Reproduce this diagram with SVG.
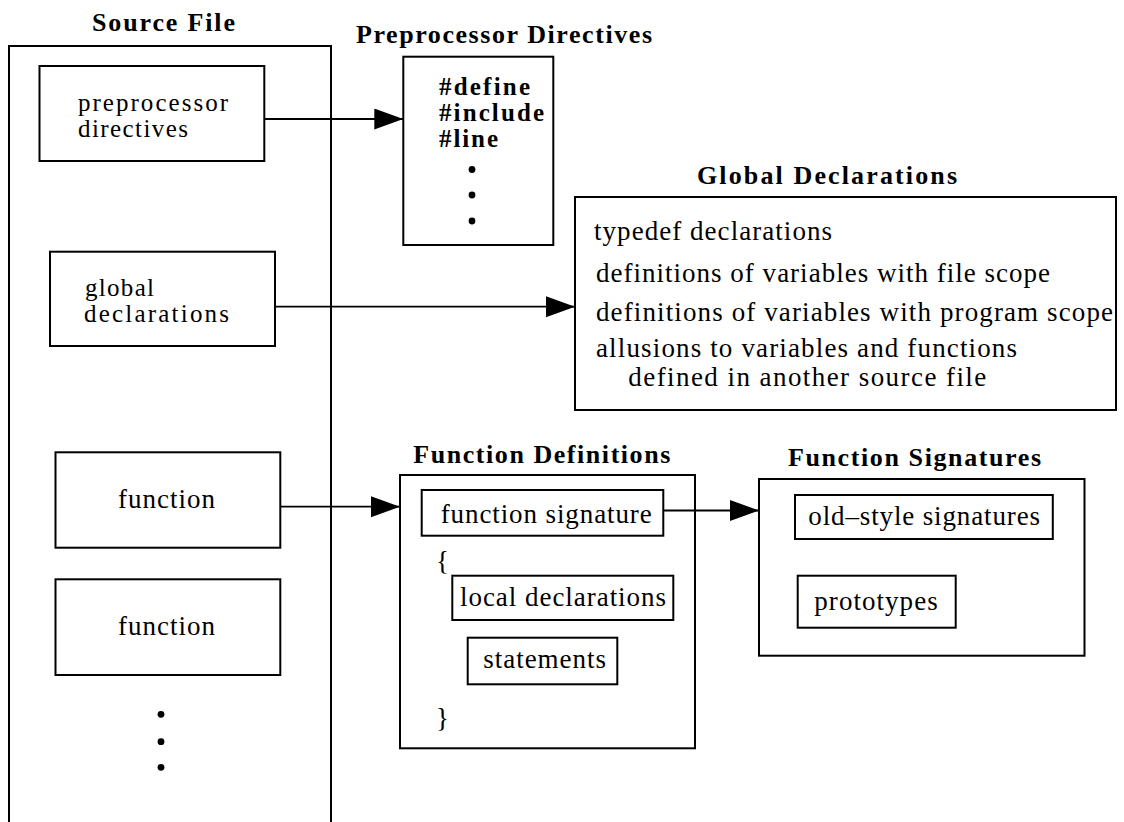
<svg xmlns="http://www.w3.org/2000/svg" width="1124" height="822" viewBox="0 0 1124 822">
<style>
.box{fill:none;stroke:#000;stroke-width:2}
.t{font-family:"Liberation Serif","Times New Roman",serif;font-size:27px;fill:#000}
.t2{font-family:"Liberation Serif","Times New Roman",serif;font-size:25px;fill:#000}
.h{font-family:"Liberation Serif","Times New Roman",serif;font-size:26px;font-weight:bold;fill:#000}
.pd{font-family:"Liberation Serif","Times New Roman",serif;font-size:25px;font-weight:bold;fill:#000}
.conn{stroke:#000;stroke-width:1.8;fill:none;marker-end:url(#ah)}
.dot{fill:#000}
</style>
<defs>
<marker id="ah" markerUnits="userSpaceOnUse" markerWidth="30" markerHeight="22" refX="29" refY="10.5" orient="auto">
<path d="M0,0 L29,10.5 L0,21 Z" fill="#000"/>
</marker>
</defs>
<rect width="1124" height="822" fill="#fff"/>

<g id="source-file">
<text class="h" x="92" y="31" textLength="143" lengthAdjust="spacing">Source File</text>
<rect class="box" x="9" y="46" width="322" height="800"/>
<g id="src-preprocessor">
<rect class="box" x="39.5" y="66" width="224.8" height="95"/>
<text class="t2" x="78" y="111" textLength="150" lengthAdjust="spacing">preprocessor</text>
<text class="t2" x="78" y="137" textLength="110" lengthAdjust="spacing">directives</text>
</g>
<g id="src-global">
<rect class="box" x="50" y="251.7" width="225" height="94.3"/>
<text class="t2" x="85" y="296" textLength="69" lengthAdjust="spacing">global</text>
<text class="t2" x="84" y="322" textLength="145" lengthAdjust="spacing">declarations</text>
</g>
<g id="src-function1">
<rect class="box" x="55.5" y="452.3" width="224.8" height="95.4"/>
<text class="t" x="118" y="508" textLength="97" lengthAdjust="spacing">function</text>
</g>
<g id="src-function2">
<rect class="box" x="55.5" y="579.3" width="224.8" height="95.7"/>
<text class="t" x="118" y="635" textLength="97" lengthAdjust="spacing">function</text>
</g>
<circle class="dot" cx="161" cy="714.3" r="3.4"/>
<circle class="dot" cx="161" cy="741.7" r="3.4"/>
<circle class="dot" cx="161" cy="767.3" r="3.4"/>
</g>

<g id="preprocessor-directives">
<text class="h" x="356" y="43" textLength="296" lengthAdjust="spacing">Preprocessor Directives</text>
<rect class="box" x="403.3" y="56.7" width="150" height="188.3"/>
<text class="pd" x="439" y="95" textLength="91" lengthAdjust="spacing">#define</text>
<text class="pd" x="439" y="121" textLength="105" lengthAdjust="spacing">#include</text>
<text class="pd" x="439" y="147" textLength="59" lengthAdjust="spacing">#line</text>
<circle class="dot" cx="472" cy="169.5" r="3.4"/>
<circle class="dot" cx="472" cy="195" r="3.4"/>
<circle class="dot" cx="472" cy="221" r="3.4"/>
</g>

<g id="global-declarations">
<text class="h" x="697" y="184" textLength="260" lengthAdjust="spacing">Global Declarations</text>
<rect class="box" x="575" y="197" width="541" height="213"/>
<text class="t" x="594" y="240" textLength="238" lengthAdjust="spacing">typedef declarations</text>
<text class="t" x="596" y="281.5" textLength="454" lengthAdjust="spacing">definitions of variables with file scope</text>
<text class="t" x="596" y="321" textLength="517" lengthAdjust="spacing">definitions of variables with program scope</text>
<text class="t" x="596" y="357" textLength="421" lengthAdjust="spacing">allusions to variables and functions</text>
<text class="t" x="628.3" y="386" textLength="358" lengthAdjust="spacing">defined in another source file</text>
</g>

<g id="function-definitions">
<text class="h" x="413.3" y="463.3" textLength="257" lengthAdjust="spacing">Function Definitions</text>
<rect class="box" x="400" y="475" width="295" height="273.3"/>
<g id="fd-signature">
<rect class="box" x="421.7" y="490" width="241.6" height="45.7"/>
<text class="t" x="440.7" y="523.3" textLength="211" lengthAdjust="spacing">function signature</text>
</g>
<text class="t" x="436" y="570">{</text>
<g id="fd-local">
<rect class="box" x="452.3" y="575.7" width="221" height="44.3"/>
<text class="t" x="460" y="606" textLength="206" lengthAdjust="spacing">local declarations</text>
</g>
<g id="fd-statements">
<rect class="box" x="467.7" y="637.7" width="149.6" height="46.6"/>
<text class="t" x="483.3" y="668" textLength="122.7" lengthAdjust="spacing">statements</text>
</g>
<text class="t" x="436" y="727">}</text>
</g>

<g id="function-signatures">
<text class="h" x="788" y="466" textLength="253" lengthAdjust="spacing">Function Signatures</text>
<rect class="box" x="759" y="479" width="325.5" height="176.7"/>
<g id="fs-oldstyle">
<rect class="box" x="795" y="495" width="257.8" height="44"/>
<text class="t" x="808.3" y="525" textLength="231.7" lengthAdjust="spacing">old–style signatures</text>
</g>
<g id="fs-prototypes">
<rect class="box" x="797.7" y="575.7" width="158" height="52"/>
<text class="t" x="814.3" y="610" textLength="123.4" lengthAdjust="spacing">prototypes</text>
</g>
</g>

<g id="connectors">
<line class="conn" x1="264.3" y1="119" x2="403.3" y2="119"/>
<line class="conn" x1="275" y1="306.7" x2="575" y2="306.7"/>
<line class="conn" x1="280.3" y1="506.7" x2="400" y2="506.7"/>
<line class="conn" x1="664" y1="510.5" x2="759" y2="510.5"/>
</g>
</svg>
